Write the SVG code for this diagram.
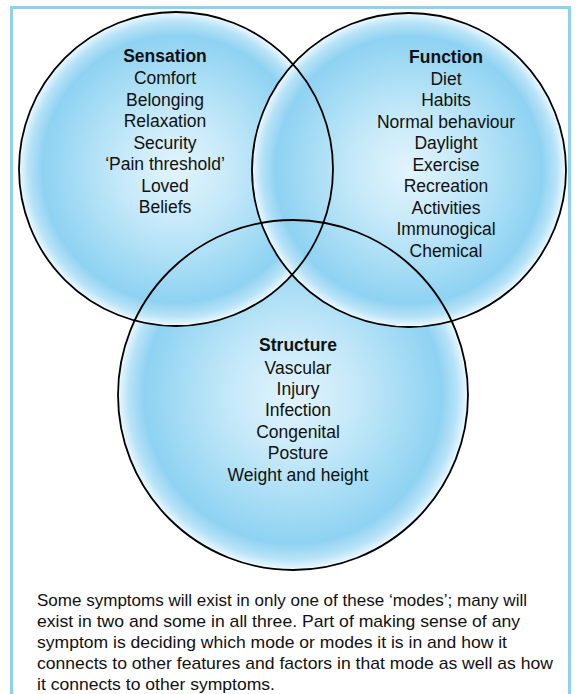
<svg xmlns="http://www.w3.org/2000/svg" width="576" height="694" viewBox="0 0 576 694">
<defs>
<radialGradient id="g" cx="0.5" cy="0.5" r="0.5">
<stop offset="0" stop-color="#e2f4fc"/>
<stop offset="0.35" stop-color="#c6e9f9"/>
<stop offset="0.6" stop-color="#aadef5"/>
<stop offset="0.85" stop-color="#8ed2f2"/>
<stop offset="0.94" stop-color="#b8e3f7"/>
<stop offset="1" stop-color="#eef9fe"/>
</radialGradient>
</defs>
<style>
.fill{fill:url(#g);stroke:none}
.edge{fill:none;stroke:#000;stroke-width:1.8}
text{font-family:"Liberation Sans",Arial,sans-serif;font-size:17.5px;fill:#111;text-anchor:middle}
.h{font-weight:bold}
.p{text-anchor:start;font-size:17px}
</style>
<rect x="0" y="0" width="576" height="694" fill="#fff"/>
<rect x="11.5" y="7.5" width="558" height="700" fill="none" stroke="#8dd1f1" stroke-width="3"/>
<g id="fills">
<circle class="fill" cx="293" cy="395" r="175"/>
<circle class="fill" cx="176" cy="169" r="157"/>
<circle class="fill" cx="409" cy="170" r="157"/>
</g>
<g id="connectors">
<circle class="edge" cx="293" cy="395" r="175"/>
<circle class="edge" cx="176" cy="169" r="157"/>
<circle class="edge" cx="409" cy="170" r="157" stroke-width="2.2"/>
</g>
<g id="sensation">
<text class="h" x="165" y="62">Sensation</text>
<text x="165" y="84">Comfort</text>
<text x="165" y="106">Belonging</text>
<text x="165" y="127">Relaxation</text>
<text x="165" y="149">Security</text>
<text x="165" y="170">‘Pain threshold’</text>
<text x="165" y="192">Loved</text>
<text x="165" y="213">Beliefs</text>
</g>
<g id="function">
<text class="h" x="446" y="63">Function</text>
<text x="446" y="85">Diet</text>
<text x="446" y="106">Habits</text>
<text x="446" y="128">Normal behaviour</text>
<text x="446" y="149">Daylight</text>
<text x="446" y="171">Exercise</text>
<text x="446" y="192">Recreation</text>
<text x="446" y="214">Activities</text>
<text x="446" y="235">Immunogical</text>
<text x="446" y="257">Chemical</text>
</g>
<g id="structure">
<text class="h" x="298" y="351">Structure</text>
<text x="298" y="374">Vascular</text>
<text x="298" y="395">Injury</text>
<text x="298" y="416">Infection</text>
<text x="298" y="438">Congenital</text>
<text x="298" y="459">Posture</text>
<text x="298" y="481">Weight and height</text>
</g>
<g id="caption">
<text class="p" x="37" y="606" textLength="490" lengthAdjust="spacingAndGlyphs">Some symptoms will exist in only one of these ‘modes’; many will</text>
<text class="p" x="37" y="627" textLength="483" lengthAdjust="spacingAndGlyphs">exist in two and some in all three. Part of making sense of any</text>
<text class="p" x="37" y="648" textLength="470" lengthAdjust="spacingAndGlyphs">symptom is deciding which mode or modes it is in and how it</text>
<text class="p" x="37" y="669" textLength="516" lengthAdjust="spacingAndGlyphs">connects to other features and factors in that mode as well as how</text>
<text class="p" x="37" y="689.5" textLength="238" lengthAdjust="spacingAndGlyphs">it connects to other symptoms.</text>
</g>
</svg>
